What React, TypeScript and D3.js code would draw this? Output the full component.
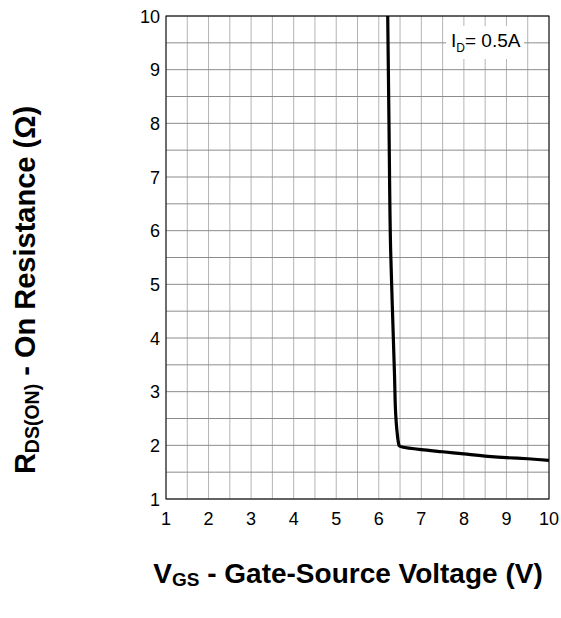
import React from "react";
import * as d3 from "d3";

const vgs = [6.21, 6.24, 6.28, 6.33, 6.37, 6.4, 6.43, 6.46, 6.48, 6.55, 7.0, 7.5, 8.0, 8.5, 9.0, 9.5, 10.0];
const rds = [10.0, 8.0, 5.6, 4.3, 3.3, 2.55, 2.25, 2.06, 1.99, 1.97, 1.92, 1.88, 1.84, 1.8, 1.77, 1.75, 1.72];
const xTicks = [1, 2, 3, 4, 5, 6, 7, 8, 9, 10];
const yTicks = [1, 2, 3, 4, 5, 6, 7, 8, 9, 10];
const gridVals = d3.range(1, 10.01, 0.5);

export default function App() {
  const W = 561, H = 618;
  const L = 166, R = 549, T = 16, B = 499;
  const x = d3.scaleLinear().domain([1, 10]).range([L, R]);
  const y = d3.scaleLinear().domain([1, 10]).range([B, T]);
  const line = d3.line<number>().x((_, i) => x(vgs[i])).y((_, i) => y(rds[i])).curve(d3.curveMonotoneY);
  const pts = vgs.map((_, i) => i);
  const font = "'Liberation Sans', Arial, sans-serif";
  return (
    <svg width={W} height={H} style={{ position: "absolute", left: 0, top: 0 }} fontFamily={font}>
      <rect width={W} height={H} fill="#fff" />
      {gridVals.map((v) => (
        <line key={"v" + v} x1={x(v)} x2={x(v)} y1={T} y2={B} stroke="#b4b4b4" strokeWidth={1} />
      ))}
      {gridVals.map((v) => (
        <line key={"h" + v} x1={L} x2={R} y1={y(v)} y2={y(v)} stroke="#8c8c8c" strokeWidth={1} />
      ))}
      <rect x={446} y={26} width={78} height={33} fill="#fff" />
      <text x={451} y={47} fontSize={19} fill="#000">
        I<tspan fontSize={12} dy={5}>D</tspan><tspan dy={-5}>= 0.5A</tspan>
      </text>
      <rect x={L} y={T} width={R - L} height={B - T} fill="none" stroke="#000" strokeWidth={1} />
      <path d={line(pts) || ""} fill="none" stroke="#000" strokeWidth={3.2} strokeLinejoin="round" />
      {xTicks.map((t) => (
        <text key={"xt" + t} x={x(t)} y={525} fontSize={18} textAnchor="middle">{t}</text>
      ))}
      {yTicks.map((t) => (
        <text key={"yt" + t} x={160} y={y(t) + 6.5} fontSize={18} textAnchor="end">{t}</text>
      ))}
      <text transform="translate(35,290) rotate(-90)" fontSize={29} fontWeight="bold" textAnchor="middle">
        R<tspan fontSize={19.5} dy={4}>DS(ON)</tspan><tspan dy={-4}> - On Resistance (Ω)</tspan>
      </text>
      <text x={348} y={583} fontSize={28} fontWeight="bold" textAnchor="middle">
        V<tspan fontSize={19} dy={3}>GS</tspan><tspan dy={-3}> - Gate-Source Voltage (V)</tspan>
      </text>
    </svg>
  );
}
